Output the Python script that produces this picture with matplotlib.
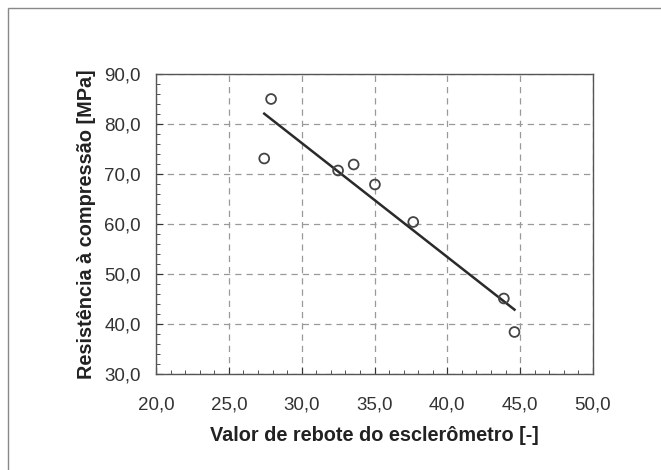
import matplotlib
matplotlib.use("Agg")
import matplotlib.pyplot as plt
import numpy as np
from matplotlib.ticker import FuncFormatter, MultipleLocator
from matplotlib.patches import Rectangle

rebote = [27.9, 27.43, 32.5, 33.57, 35.03, 37.66, 43.88, 44.61]
resistencia = [85.0, 73.1, 70.7, 71.9, 67.9, 60.4, 45.1, 38.4]

plt.rcParams['font.family'] = ['Liberation Sans', 'DejaVu Sans']

fig = plt.figure(figsize=(6.61, 4.70), dpi=100)
fig.patches.append(Rectangle((8/661, -0.1), 1.2, 1 - 8/470 + 0.1, transform=fig.transFigure,
                             fill=False, edgecolor='#888888', linewidth=1.0))
ax = fig.add_axes([156/661, 1-374/470, (593-156)/661, (374-74)/470])

x = np.array(rebote)
y = np.array(resistencia)
m, b = np.polyfit(x, y, 1)
xs = np.array([x.min(), x.max()])
ax.plot(xs, m*xs + b, color='#2a2a2a', linewidth=1.8, zorder=3)
ax.scatter(x, y, s=50, facecolors='none', edgecolors='#444444', linewidths=1.3, zorder=4)

ax.set_xlim(20, 50)
ax.set_ylim(30, 90)
ax.xaxis.set_major_locator(MultipleLocator(5))
ax.yaxis.set_major_locator(MultipleLocator(10))
ax.xaxis.set_minor_locator(MultipleLocator(1))
ax.yaxis.set_minor_locator(MultipleLocator(2))
fmt = FuncFormatter(lambda v, p: f"{v:.1f}".replace('.', ','))
ax.xaxis.set_major_formatter(fmt)
ax.yaxis.set_major_formatter(fmt)
ax.grid(True, which='major', linestyle=(0, (5, 4)), color='#999999', linewidth=0.9)
ax.tick_params(which='both', direction='in', labelsize=13.5, colors='#333333')
ax.tick_params(which='major', length=5)
ax.tick_params(which='minor', length=3)
ax.tick_params(axis='x', pad=16)
ax.tick_params(axis='y', pad=11)
for s in ax.spines.values():
    s.set_color('#555555')
    s.set_linewidth(1.0)

ax.set_xlabel('Valor de rebote do esclerômetro [-]', fontsize=14.3, fontweight='bold', color='#222222', labelpad=9)
ax.set_ylabel('Resistência à compressão [MPa]', fontsize=14.3, fontweight='bold', color='#222222', labelpad=6)

fig.savefig('out.png', dpi=100)
